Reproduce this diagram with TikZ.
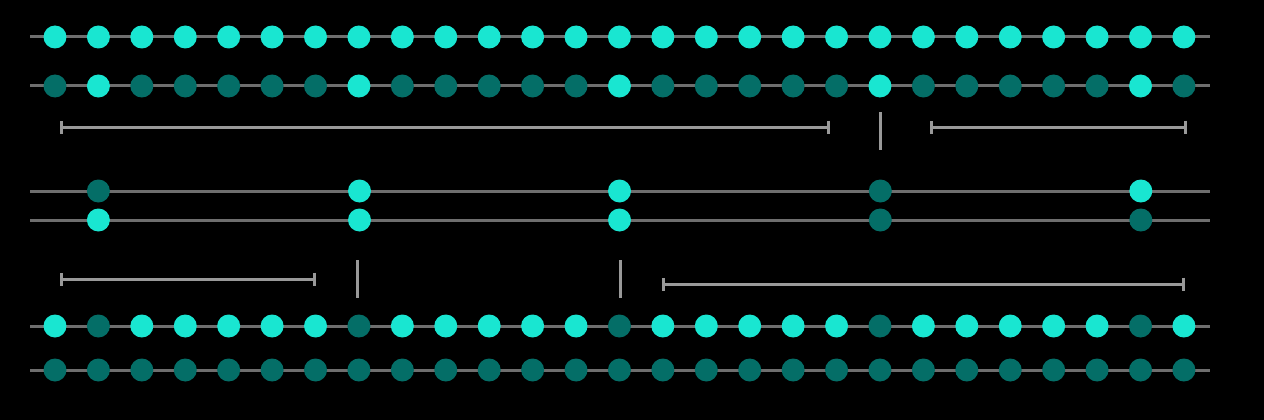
\documentclass[tikz,border=0pt]{standalone}
\usetikzlibrary{arrows.meta}
\definecolor{bright}{HTML}{19E6D1}
\definecolor{dark}{HTML}{046E67}
\definecolor{rail}{HTML}{6E6E6E}
\definecolor{brk}{HTML}{999999}
\begin{document}
\begin{tikzpicture}[x=1pt,y=-1pt,
  dotb/.style={circle,fill=bright,inner sep=0pt,minimum size=23pt},
  dotd/.style={circle,fill=dark,inner sep=0pt,minimum size=23pt},
  railline/.style={draw=rail,line width=3pt},
  brkline/.style={draw=brk,line width=3pt,{Bar[width=13pt,line width=3pt]}-{Bar[width=13pt,line width=3pt]}},
  tickline/.style={draw=brk,line width=3pt}]
\fill[black] (0,0) rectangle (1264,420);
\useasboundingbox (0,0) rectangle (1264,420);
% rails
\foreach \r/\y in {1/37,2/86,3/191,4/220,5/326,6/370}{
  \coordinate (L\r) at (30,\y);
  \coordinate (R\r) at (1210,\y);
  \path[railline] (L\r) -- (R\r);
}
% rows 1, 2, 5, 6
\foreach \i in {0,...,26}{
  \pgfmathsetmacro{\xx}{55+\i*43.42}
  \pgfmathtruncatemacro{\m}{mod(\i,6)}
  \node[dotb] (a\i) at (\xx,37) {};
  \ifnum\m=1
    \node[dotb] (b\i) at (\xx,86) {};
    \node[dotd] (e\i) at (\xx,326) {};
  \else
    \node[dotd] (b\i) at (\xx,86) {};
    \node[dotb] (e\i) at (\xx,326) {};
  \fi
  \node[dotd] (f\i) at (\xx,370) {};
}
% rows 3 and 4
\node[dotd] (c1) at (98.4,191) {};
\node[dotb] (c2) at (359.5,191) {};
\node[dotb] (c3) at (619.5,191) {};
\node[dotd] (c4) at (880.3,191) {};
\node[dotb] (c5) at (1140.8,191) {};
\node[dotb] (d1) at (98.4,220) {};
\node[dotb] (d2) at (359.5,220) {};
\node[dotb] (d3) at (619.5,220) {};
\node[dotd] (d4) at (880.3,220) {};
\node[dotd] (d5) at (1140.8,220) {};
% brackets top
\coordinate (p1) at (60,127); \coordinate (p2) at (830,127);
\path[brkline] (p1) -- (p2);
\coordinate (t1a) at (880,112); \coordinate (t1b) at (880,150);
\path[tickline] (t1a) -- (t1b);
\coordinate (p3) at (930,127); \coordinate (p4) at (1187,127);
\path[brkline] (p3) -- (p4);
% brackets bottom
\coordinate (q1) at (60,279); \coordinate (q2) at (316,279);
\path[brkline] (q1) -- (q2);
\coordinate (t2a) at (357,260); \coordinate (t2b) at (357,298);
\path[tickline] (t2a) -- (t2b);
\coordinate (t3a) at (620,260); \coordinate (t3b) at (620,298);
\path[tickline] (t3a) -- (t3b);
\coordinate (q3) at (662,284); \coordinate (q4) at (1185,284);
\path[brkline] (q3) -- (q4);
\end{tikzpicture}
\end{document}
